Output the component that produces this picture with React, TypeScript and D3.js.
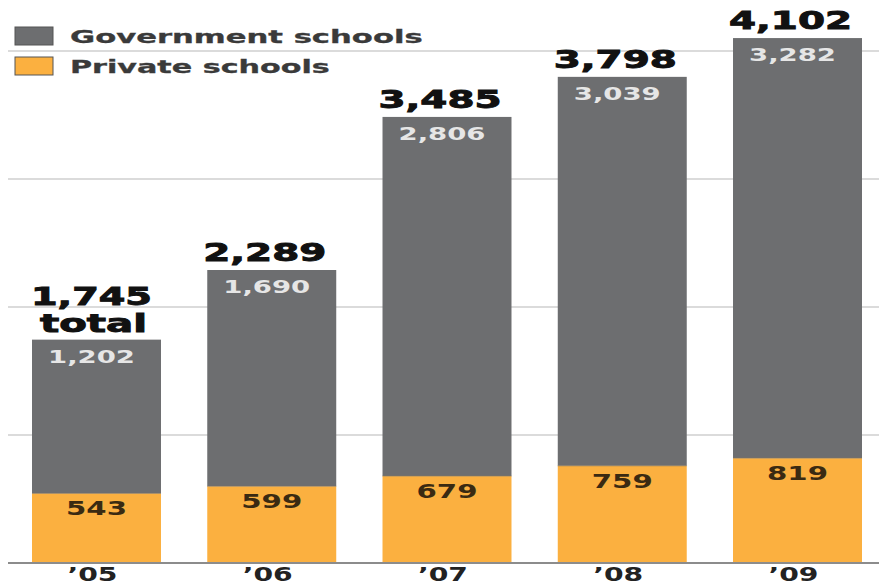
import React, { useLayoutEffect, useRef, useState } from "react";
import * as d3 from "d3";

const years = ["’05", "’06", "’07", "’08", "’09"];
const government = [1202, 1690, 2806, 3039, 3282];
const privateSchools = [543, 599, 679, 759, 819];
const totals = [1745, 2289, 3485, 3798, 4102];
const gridTicks = [1000, 2000, 3000, 4000];
const legendItems = ["Government schools", "Private schools"];

const W = 879;
const H = 585;
const GOV = "#6d6e70";
const PRI = "#fbb040";
const FONT = "'DejaVu Sans', Verdana, sans-serif";
const fmt = d3.format(",");

type FitProps = {
  x: number;
  y: number;
  width: number;
  anchor?: "start" | "middle";
  size: number;
  fill: string;
  stroke?: string;
  sw?: number;
  children: string;
};

function FitText({ x, y, width, anchor = "middle", size, fill, stroke, sw, children }: FitProps) {
  const ref = useRef<SVGTextElement>(null);
  const [s, setS] = useState(1);
  useLayoutEffect(() => {
    if (ref.current) {
      const w = ref.current.getComputedTextLength();
      if (w > 0) setS(width / w);
    }
  }, [width, children, size]);
  return (
    <text
      ref={ref}
      transform={`translate(${x},${y}) scale(${s},1)`}
      fontSize={size}
      fontWeight="bold"
      fill={fill}
      stroke={stroke}
      strokeWidth={sw}
      textAnchor={anchor}
    >
      {children}
    </text>
  );
}

export default function App() {
  const x = d3.scaleBand<string>().domain(years).range([32, 862]).paddingInner(0.264).paddingOuter(0);
  const y = d3.scaleLinear().domain([0, 4000]).range([563, 51]);
  const bw = x.bandwidth();
  const legendColors = [GOV, PRI];
  const legendLen = [353, 260];

  return (
    <svg width={W} height={H} style={{ position: "absolute", left: 0, top: 0, background: "#fff" }} fontFamily={FONT}>
      {gridTicks.map((t) => (
        <line key={t} x1={8} x2={W} y1={y(t)} y2={y(t)} stroke="#cfcfcf" strokeWidth={1.5} />
      ))}
      {legendItems.map((name, i) => (
        <g key={name}>
          <rect x={15} y={27 + i * 30} width={38} height={18} fill={legendColors[i]} stroke="#555" strokeWidth={1} />
          <FitText x={70} y={43 + i * 29.5} width={legendLen[i]} anchor="start" size={17} fill="#3a3a3a" stroke="#3a3a3a" sw={0.3}>
            {name}
          </FitText>
        </g>
      ))}
      {years.map((yr, i) => {
        const x0 = x(yr)!;
        const cx = x0 + bw / 2;
        const gTop = y(government[i] + privateSchools[i]);
        const pTop = y(privateSchools[i]);
        const tTop = y(totals[i]);
        return (
          <g key={yr}>
            <rect x={x0} y={gTop} width={bw} height={pTop - gTop} fill={GOV} />
            <rect x={x0} y={pTop} width={bw} height={y(0) - pTop} fill={PRI} />
            <line x1={x0} x2={x0 + bw} y1={pTop} y2={pTop} stroke="#8a7a60" strokeWidth={1} opacity={0.6} />
            <FitText x={cx - 5} y={gTop + 23} width={87} size={18} fill="#e6e6e6">
              {fmt(government[i])}
            </FitText>
            <FitText x={cx} y={pTop + 22} width={61} size={19} fill="#3a2a12">
              {fmt(privateSchools[i])}
            </FitText>
            {i === 0 ? (
              <>
                <FitText x={cx - 5} y={tTop - 35} width={121} size={24} fill="#111" stroke="#111" sw={0.9}>
                  {fmt(totals[i])}
                </FitText>
                <FitText x={cx - 3} y={tTop - 8} width={107} size={24} fill="#111" stroke="#111" sw={0.9}>
                  total
                </FitText>
              </>
            ) : (
              <FitText x={cx - 7} y={tTop - 9} width={123} size={24} fill="#111" stroke="#111" sw={0.9}>
                {fmt(totals[i])}
              </FitText>
            )}
            <FitText x={cx - 4} y={581} width={50} size={20} fill="#222">
              {yr}
            </FitText>
          </g>
        );
      })}
      <line x1={8} x2={W} y1={y(0)} y2={y(0)} stroke="#8c8c8c" strokeWidth={2} />
    </svg>
  );
}
